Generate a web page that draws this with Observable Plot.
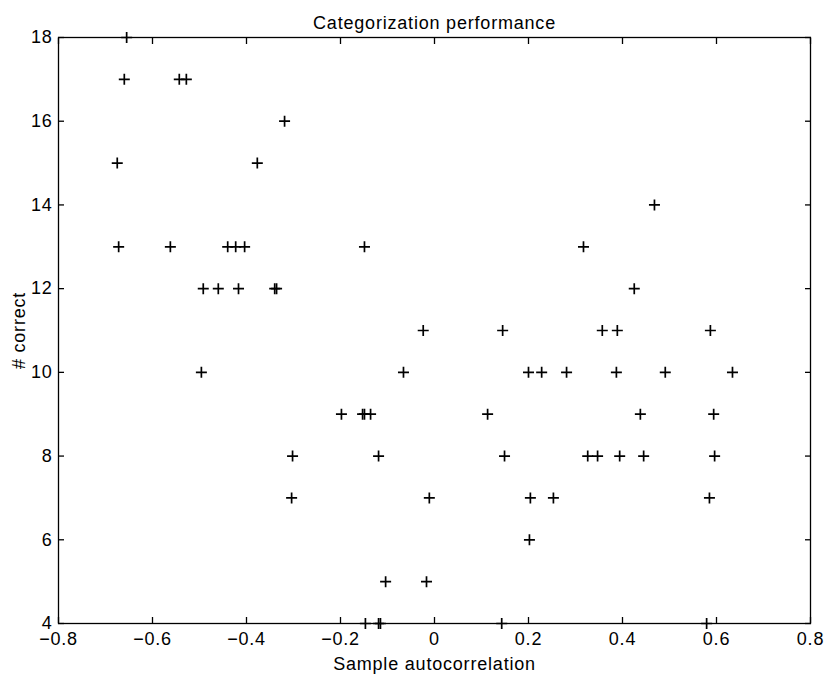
<!DOCTYPE html>
<html>
<head>
<meta charset="utf-8">
<script src="https://cdn.jsdelivr.net/npm/d3@7"></script>
<script src="https://cdn.jsdelivr.net/npm/@observablehq/plot@0.6"></script>
<style>
  html, body { margin: 0; padding: 0; background: #fff; }
  #chart svg { display: block; }
</style>
</head>
<body>
<div id="chart"></div>
<script>
const title = "Categorization performance";
const xLabel = "Sample autocorrelation";
const yLabel = "# correct";
const xTicks = [-0.8, -0.6, -0.4, -0.2, 0, 0.2, 0.4, 0.6, 0.8];
const yTicks = [4, 6, 8, 10, 12, 14, 16, 18];

// Sample autocorrelation (x) and number correct (y)
const autocorr = [
  -0.655,
  -0.660, -0.543, -0.528,
  -0.319,
  -0.675, -0.377,
  0.468,
  -0.672, -0.562, -0.440, -0.423, -0.404, -0.149, 0.317,
  -0.492, -0.460, -0.417, -0.340, -0.336, 0.425,
  -0.024, 0.145, 0.357, 0.389, 0.587,
  -0.496, -0.066, 0.200, 0.228, 0.281, 0.387, 0.491, 0.634,
  -0.198, -0.153, -0.149, -0.136, 0.113, 0.438, 0.594,
  -0.302, -0.119, 0.149, 0.326, 0.347, 0.394, 0.445, 0.596,
  -0.304, -0.011, 0.204, 0.253, 0.585,
  0.202,
  -0.104, -0.017,
  -0.147, -0.119, -0.115, 0.143, 0.579
];
const correct = [
  18,
  17, 17, 17,
  16,
  15, 15,
  14,
  13, 13, 13, 13, 13, 13, 13,
  12, 12, 12, 12, 12, 12,
  11, 11, 11, 11, 11,
  10, 10, 10, 10, 10, 10, 10, 10,
  9, 9, 9, 9, 9, 9, 9,
  8, 8, 8, 8, 8, 8, 8, 8,
  7, 7, 7, 7, 7,
  6,
  5, 5,
  4, 4, 4, 4, 4
];

const points = autocorr.map((x, i) => ({x, y: correct[i]}));

// thin stroked plus, like MATLAB's '+' marker
const plusSymbol = {
  draw(context, size) {
    const r = Math.sqrt(size / Math.PI);
    context.moveTo(-r, 0); context.lineTo(r, 0);
    context.moveTo(0, -r); context.lineTo(0, r);
  }
};

const noText = () => "";
const xFormat = d => d === 0 ? "0" : d.toFixed(1).replace("-", "\u2212");

const chart = Plot.plot({
  width: 832,
  height: 677,
  marginLeft: 58,
  marginRight: 22,
  marginTop: 37,
  marginBottom: 54,
  style: {fontFamily: "'Liberation Sans', Arial, sans-serif", fontSize: "18px", letterSpacing: "0.8px", color: "black", background: "white"},
  x: {domain: [-0.8, 0.8]},
  y: {domain: [4, 18]},
  marks: [
    Plot.frame({stroke: "black", strokeWidth: 1.3}),
    Plot.axisX(xTicks, {anchor: "bottom", tickSize: 0, tickPadding: 9, tickFormat: xFormat, label: xLabel, labelAnchor: "center", labelArrow: "none", labelOffset: 46}),
    Plot.axisX(xTicks, {anchor: "bottom", tickSize: -6, tickFormat: noText, label: null, strokeWidth: 1.3}),
    Plot.axisX(xTicks, {anchor: "top", tickSize: -6, tickFormat: noText, label: null, strokeWidth: 1.3}),
    Plot.axisY(yTicks, {anchor: "left", tickSize: 0, tickPadding: 6, label: yLabel, labelAnchor: "center", labelArrow: "none", labelOffset: 46}),
    Plot.axisY(yTicks, {anchor: "left", tickSize: -6, tickFormat: noText, label: null, strokeWidth: 1.3}),
    Plot.axisY(yTicks, {anchor: "right", tickSize: -6, tickFormat: noText, label: null, strokeWidth: 1.3}),
    Plot.dot(points, {x: "x", y: "y", symbol: plusSymbol, r: 5.5, stroke: "black", strokeWidth: 1.7, fill: "none"}),
    Plot.text([title], {text: d => d, frameAnchor: "top", dy: -21, fontSize: 18})
  ]
});
document.getElementById("chart").appendChild(chart);
</script>
</body>
</html>
